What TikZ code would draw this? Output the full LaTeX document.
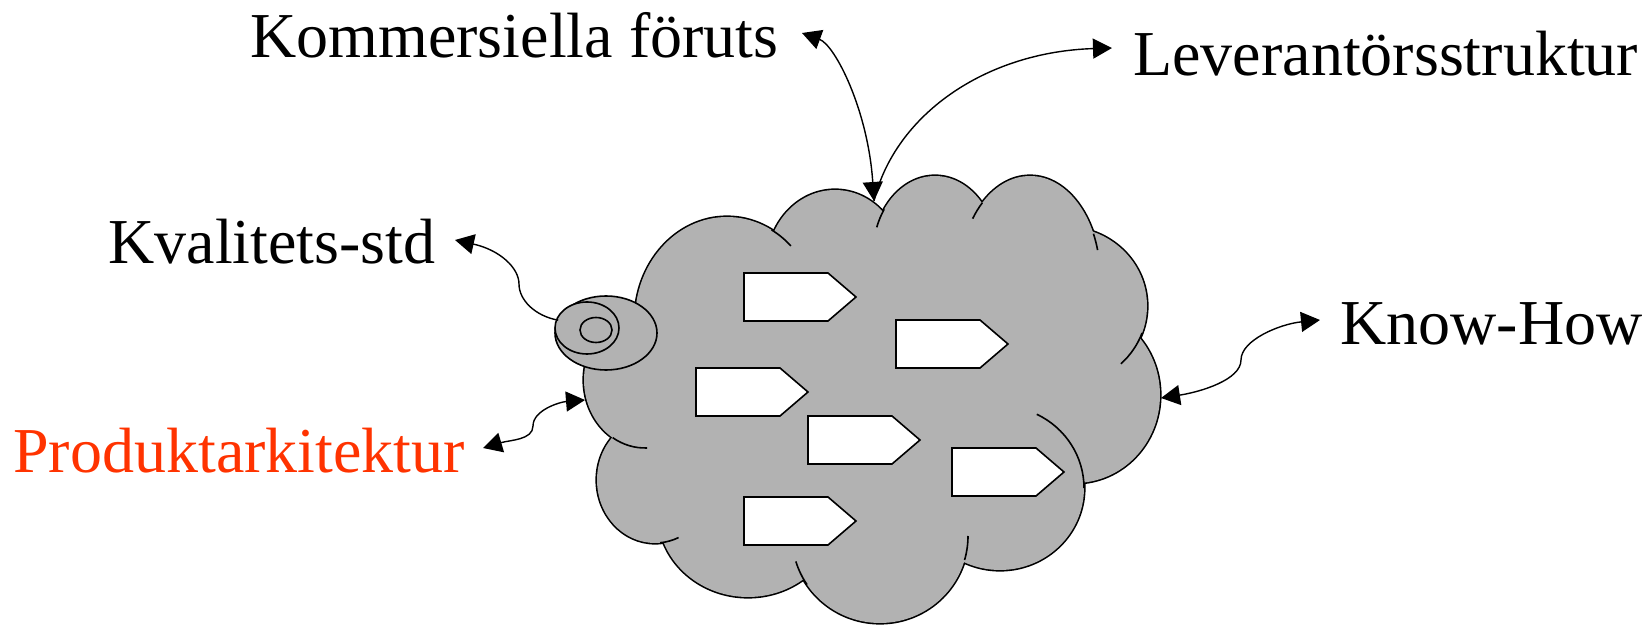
\documentclass[tikz,border=0pt]{standalone}
\usepackage{fontspec}
\setmainfont{Liberation Serif}
\usetikzlibrary{arrows.meta,shapes.geometric}
\definecolor{cloudgray}{RGB}{178,178,178}
\definecolor{orangered}{RGB}{255,51,0}
% inner piece of one cloud lobe
\newcommand{\lobetail}[6]{%
  \draw[tailline] (#1,#2) ++(#5:#3 and #4) arc[start angle=#5, end angle=#6, x radius=#3, y radius=#4];}
\begin{document}
\begin{tikzpicture}[x=0.5pt, y=-0.5pt,
    >={Triangle[length=9.5pt,width=10pt]},
    itemtext/.style={font=\fontsize{32}{38}\selectfont, inner sep=0pt, anchor=base west},
    link/.style={line width=0.7pt},
    tailline/.style={line width=0.8pt},
    plate/.style={draw, line width=0.8pt, fill=white},
    bubble/.style={draw, ellipse, line width=0.8pt, fill=cloudgray, inner sep=0pt, outer sep=0pt}]
    \useasboundingbox (0,0) rectangle (1651,625);
    \def\lobes{727/320/92/103, 835/265/68/75, 935/254/62/78, 1030/276/70/100,
        1065/306/82/79, 1075/395/85/88, 1000/488/84/82, 880/536/88/87,
        748/513/90/84, 655/480/58/63, 645/380/61/68}
    % Cloud
    \foreach \cx/\cy/\rx/\ry in \lobes
        \draw[line width=1.6pt, fill=cloudgray] (\cx,\cy) ellipse[x radius=\rx, y radius=\ry];
    \foreach \cx/\cy/\rx/\ry in \lobes
        \fill[cloudgray] (\cx,\cy) ellipse[x radius=\rx, y radius=\ry];
    \fill[cloudgray] (727,320) -- (835,265) -- (935,254) -- (1030,276) -- (1065,306) -- (1075,395)
        -- (1000,488) -- (880,536) -- (748,513) -- (655,480) -- (645,380) -- cycle;
    \lobetail{727}{320}{92}{103}{-61}{-46}
    \lobetail{935}{254}{62}{78}{-145}{-160}
    \lobetail{1030}{276}{70}{100}{-133}{-145}
    \lobetail{1030}{276}{70}{100}{-25}{-15}
    \lobetail{1065}{306}{82}{79}{20}{47}
    \lobetail{1000}{488}{84}{82}{-64}{0}
    \lobetail{880}{536}{88}{87}{16}{0}
    \lobetail{880}{536}{88}{87}{146}{163}
    \lobetail{655}{480}{58}{63}{66}{85}
    \lobetail{645}{380}{61}{68}{122}{88}
    % Process arrows
    \foreach \px/\py in {744/273, 696/368, 896/320, 808/416, 744/497, 952/448}
        \draw[plate] (\px,\py) -- ++(84,0) -- ++(28,24) -- ++(-28,24) -- ++(-84,0) -- cycle;
    % Standard rings
    \node[bubble, minimum width=51pt, minimum height=37pt] (qbig) at (606,333) {};
    \node[bubble, minimum width=32pt, minimum height=26pt] (qmid) at (587,328) {};
    \node[bubble, minimum width=16pt, minimum height=12.5pt] (qsmall) at (596,330) {};
    % Labels
    \node[itemtext] (kom) at (250,58) {Kommersiella föruts};
    \node[itemtext] (lev) at (1133,76) {Leverantörsstruktur};
    \node[itemtext] (kval) at (108,264) {Kvalitets-std};
    \node[itemtext] (know) at (1340,345) {Know-How};
    \node[itemtext, text=orangered] (prod) at (13,473) {Produktarkitektur};
    % Connectors
    \coordinate (cloudtop) at (874,201);
    \coordinate (cloudleft) at (585,400);
    \coordinate (cloudright) at (1161,398);
    \coordinate (komtip) at (802,33);
    \coordinate (levtip) at (1112,48);
    \coordinate (kvaltip) at (455,240);
    \coordinate (prodtip) at (483,448);
    \coordinate (knowtip) at (1320,320);
    \draw[link,<->] (komtip) .. controls (835,45) and (868,110) .. (cloudtop);
    \draw[link,->] (cloudtop) .. controls (895,115) and (985,52) .. (levtip);
    \draw[link,->] (qbig.165) .. controls (535,316) and (519,300) .. (519,284)
        .. controls (519,268) and (500,250) .. (kvaltip);
    \draw[link,<->] (prodtip) .. controls (510,440) and (533,440) .. (533,426)
        .. controls (533,410) and (560,402) .. (cloudleft);
    \draw[link,<->] (cloudright) .. controls (1200,392) and (1241,380) .. (1241,360)
        .. controls (1241,340) and (1280,324) .. (knowtip);
\end{tikzpicture}
\end{document}
